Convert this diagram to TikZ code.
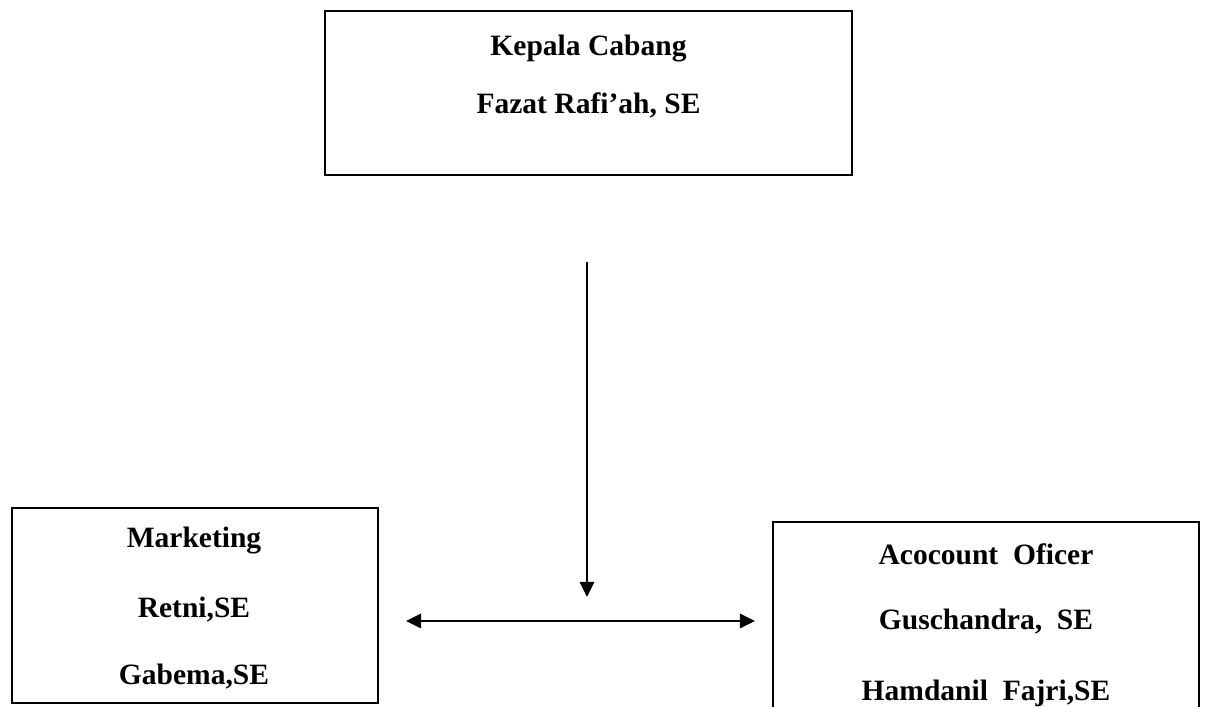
\documentclass[tikz,border=0pt]{standalone}
\usepackage{fontspec}
\setmainfont{Liberation Serif}
\usetikzlibrary{arrows.meta}

\begin{document}
\begin{tikzpicture}[
    x=0.025cm, y=-0.025cm,
    font=\fontsize{21}{25}\selectfont\bfseries,
    kotak/.style={draw, line width=1.4pt, rectangle, inner sep=0pt},
    teks/.style={anchor=base, inner sep=0pt, align=center},
    panah/.style={line width=1.5pt, -{Triangle[length=0.38cm, width=0.36cm]}}
  ]
    \clip (0,0) rectangle (1205,707);
    \node[kotak, minimum width=13.175cm, minimum height=4.1cm]  (kc) at (588.5,93)  {};
    \node[kotak, minimum width=9.15cm,   minimum height=4.875cm] (mk) at (195,605.5) {};
    \node[kotak, minimum width=10.65cm,  minimum height=5.2cm]  (ao) at (986,626)   {};
    \node[teks] (kc1) at (588.5,56)  {Kepala Cabang};
    \node[teks] (kc2) at (588.5,114) {Fazat Rafi'ah, SE};
    \node[teks] (mk1) at (194,548) {Marketing};
    \node[teks] (mk2) at (194,618) {Retni,SE};
    \node[teks] (mk3) at (194,685) {Gabema,SE};
    \node[teks] (ao1) at (986,565) {Acocount~ Oficer};
    \node[teks] (ao2) at (986,630) {Guschandra,~ SE};
    \node[teks] (ao3) at (986,700) {Hamdanil~ Fajri,SE};
    \coordinate (atas)  at (587,262);
    \coordinate (ujung) at (587,597);
    \coordinate (temu)  at (587,621);
    \coordinate (kiri)  at (406,621);
    \coordinate (kanan) at (755,621);
    \draw[panah] (atas) -- (ujung);
    \draw[panah] (temu) -- (kiri);
    \draw[panah] (temu) -- (kanan);
  \end{tikzpicture}
\end{document}
